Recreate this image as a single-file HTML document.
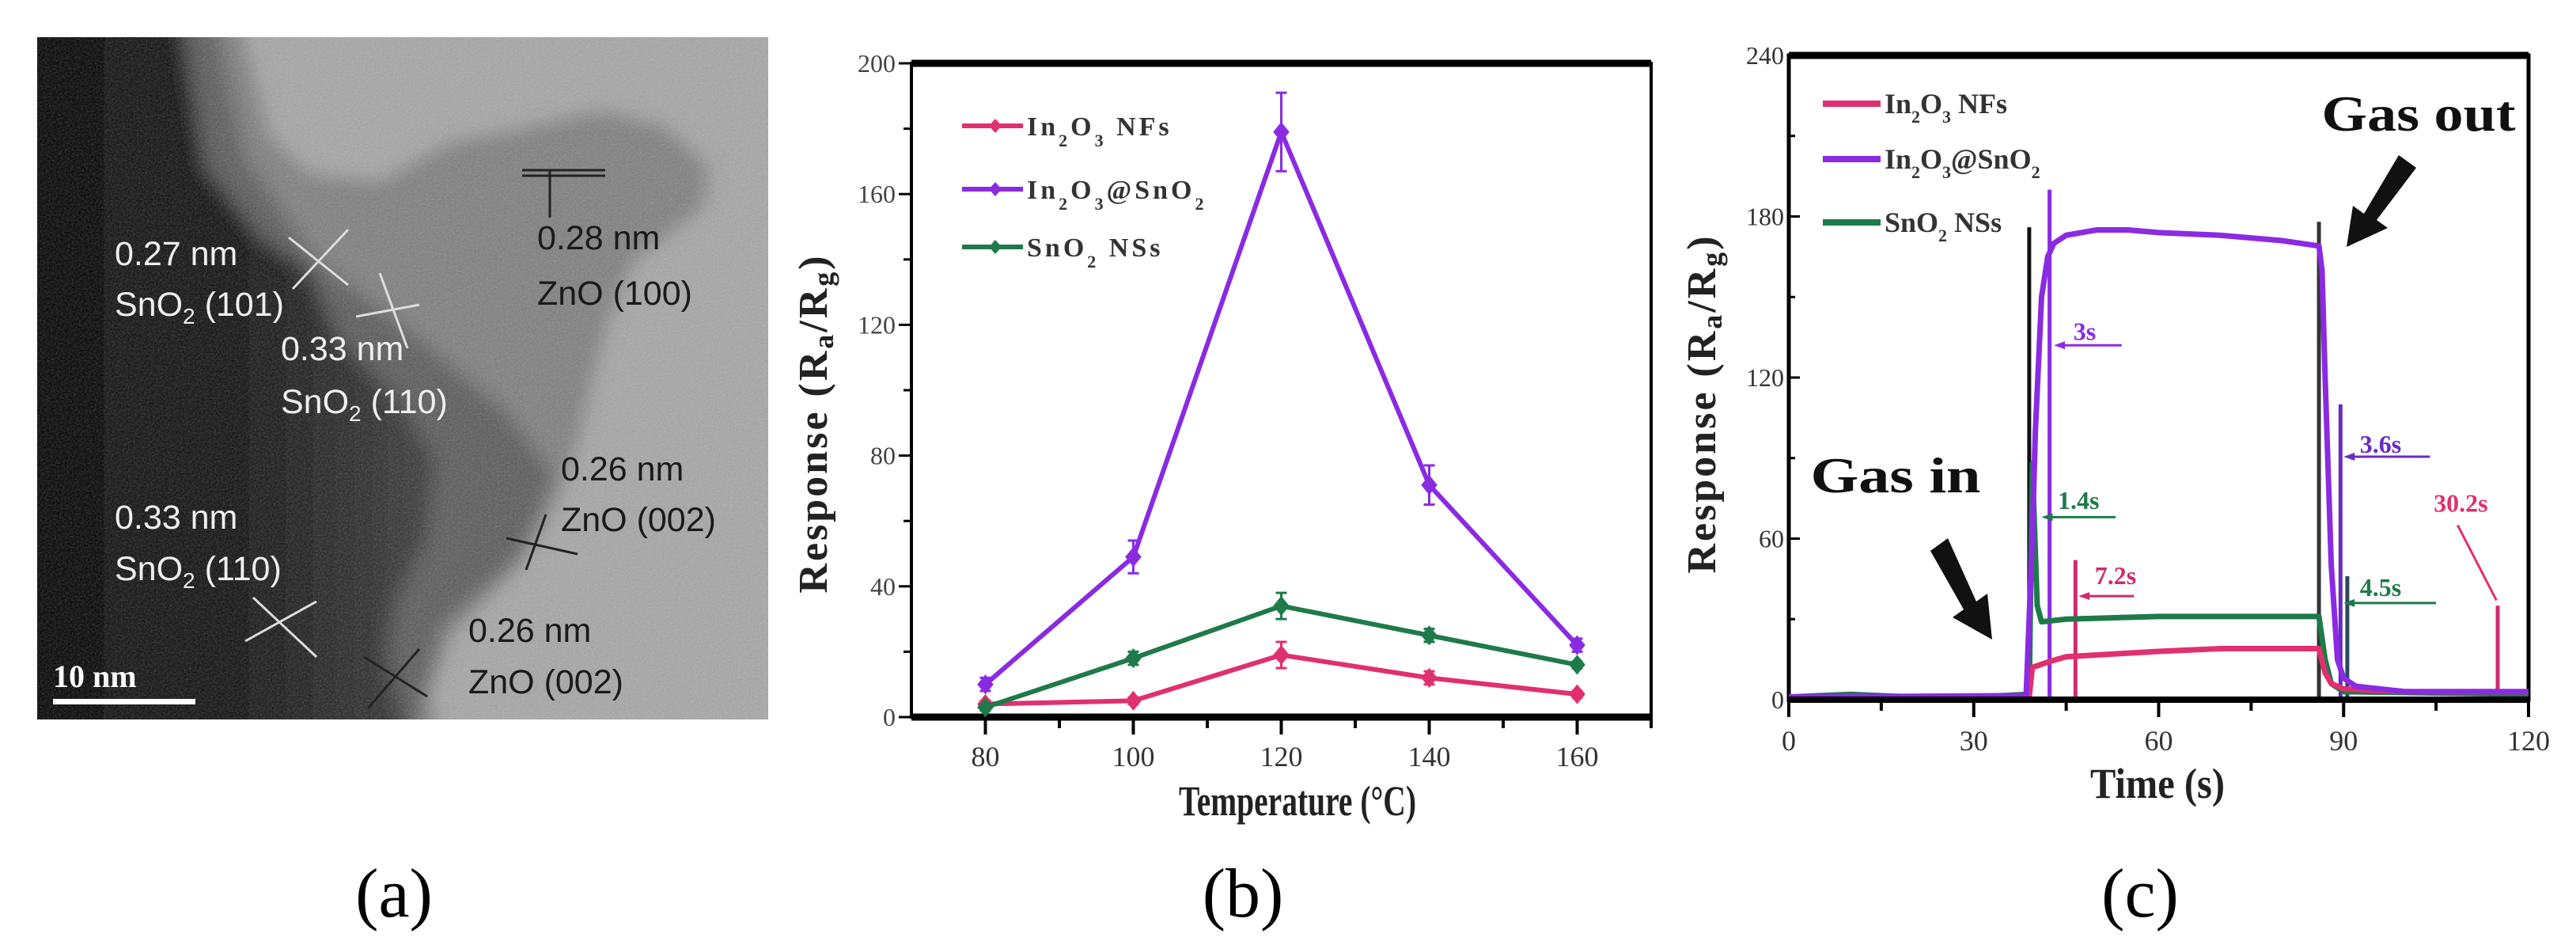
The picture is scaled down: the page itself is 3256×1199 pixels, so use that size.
<!DOCTYPE html>
<html><head><meta charset="utf-8"><style>
html,body{margin:0;padding:0;background:#fff}
svg{display:block}
text{font-family:"Liberation Serif",serif}
.s{font-family:"Liberation Sans",sans-serif;font-size:43px}
</style></head><body>
<svg id="fig" width="3256" height="1199" viewBox="0 0 3256 1199" xmlns="http://www.w3.org/2000/svg">
<defs>
<filter id="blur" x="-10%" y="-10%" width="120%" height="120%"><feGaussianBlur stdDeviation="12"/></filter>
<filter id="noise"><feTurbulence type="fractalNoise" baseFrequency="0.45" numOctaves="2" result="n"/><feColorMatrix type="saturate" values="0"/><feComponentTransfer><feFuncA type="linear" slope="0.3"/></feComponentTransfer></filter>
<clipPath id="tem"><rect x="46" y="46" width="926" height="864"/></clipPath>
<linearGradient id="dk" x1="0" x2="1" y1="0" y2="0"><stop offset="0" stop-color="#000"/><stop offset="0.55" stop-color="#111"/><stop offset="1" stop-color="#3a3a3a"/></linearGradient>
</defs>

<!-- Panel (a) TEM image -->
<g clip-path="url(#tem)">
<rect x="46" y="46" width="926" height="864" fill="#a6a6a6"/>
<g filter="url(#blur)">
<polygon fill="#7e7e7e" points="20,20 300,20 340,170 390,220 480,230 570,180 650,165 760,140 840,160 895,210 890,260 800,330 770,400 750,470 730,560 700,640 650,720 570,800 540,880 560,940 20,940"/>
<polygon fill="#5a5a5a" points="20,20 270,20 310,200 400,330 520,420 640,520 700,600 660,700 560,790 520,940 20,940"/>
<polygon fill="url(#dk)" points="20,20 230,20 260,210 330,300 390,340 430,430 500,500 550,580 540,680 500,760 490,830 520,940 20,940"/>
</g>
<rect x="46" y="46" width="926" height="864" filter="url(#noise)"/>
</g>
<rect x="46" y="46" width="926" height="864" fill="none" stroke="#fff" stroke-width="2"/>
<g stroke-width="3" clip-path="url(#tem)">
<g stroke="#ddd"><line x1="365" y1="300" x2="440" y2="360"/><line x1="440" y1="290" x2="370" y2="365"/><line x1="480" y1="345" x2="515" y2="440"/><line x1="450" y1="400" x2="530" y2="385"/><line x1="320" y1="755" x2="400" y2="830"/><line x1="310" y1="810" x2="400" y2="760"/></g>
<g stroke="#222"><line x1="695" y1="215" x2="695" y2="275"/><line x1="660" y1="215" x2="765" y2="215"/><line x1="660" y1="222" x2="765" y2="222"/><line x1="640" y1="680" x2="730" y2="700"/><line x1="665" y1="720" x2="690" y2="650"/><line x1="460" y1="830" x2="540" y2="880"/><line x1="465" y1="895" x2="530" y2="820"/></g>
</g>
<g>
<text class="s" x="145" y="335" fill="#eee">0.27 nm</text>
<text class="s" x="145" y="399" fill="#eee">SnO<tspan font-size="28" dy="10">2</tspan><tspan dy="-10"> (101)</tspan></text>
<text class="s" x="355" y="455" fill="#eee">0.33 nm</text>
<text class="s" x="355" y="522" fill="#eee">SnO<tspan font-size="28" dy="10">2</tspan><tspan dy="-10"> (110)</tspan></text>
<text class="s" x="679" y="315" fill="#1a1a1a">0.28 nm</text>
<text class="s" x="679" y="385" fill="#1a1a1a">ZnO (100)</text>
<text class="s" x="709" y="607" fill="#1a1a1a">0.26 nm</text>
<text class="s" x="709" y="671" fill="#1a1a1a">ZnO (002)</text>
<text class="s" x="145" y="668" fill="#eee">0.33 nm</text>
<text class="s" x="145" y="733" fill="#eee">SnO<tspan font-size="28" dy="10">2</tspan><tspan dy="-10"> (110)</tspan></text>
<text class="s" x="592" y="811" fill="#1a1a1a">0.26 nm</text>
<text class="s" x="592" y="876" fill="#1a1a1a">ZnO (002)</text>
<text x="67" y="868" font-size="40" font-weight="bold" fill="#fff">10 nm</text>
<rect x="67" y="883" width="180" height="7" fill="#fff"/>
</g>

<g id="chartB"></g>
<g id="chartC"></g>

<text x="498" y="1158" font-size="88" text-anchor="middle">(a)</text>
<text x="1571" y="1158" font-size="88" text-anchor="middle">(b)</text>
<text x="2705" y="1158" font-size="88" text-anchor="middle">(c)</text>
</svg>
<script>
// ---------- Chart (b) data ----------
const tempCats = [80, 100, 120, 140, 160];
const in2o3NFs = [4, 5, 19, 12, 7];
const in2o3NFsErr = [1, 1, 4, 2, 1];
const in2o3SnO2 = [10, 49, 179, 71, 22];
const in2o3SnO2Err = [2, 5, 12, 6, 2];
const sno2NSs = [3, 18, 34, 25, 16];
const sno2NSsErr = [1, 2, 4, 2, 1];
const bXTicks = [80, 100, 120, 140, 160];
const bYTicks = [0, 40, 80, 120, 160, 200];

// ---------- Chart (c) data ([time, response]) ----------
const cPurple = [[0,1],[38.5,1.5],[39.5,60],[40,100],[41,150],[42,165],[43,170],[45,173],[50,175],[55,175],[60,174],[70,173],[80,171],[86,169],[86.5,160],[87,120],[88,50],[89,15],[90,8],[92,5],[96,4],[100,3],[120,3]];
const cGreen = [[0,1],[10,2],[20,1],[30,1],[39,2],[39.5,88],[40.3,35],[41,29],[45,30],[60,31],[86,31],[87,15],[88,6],[90,3],[120,2]];
const cPink = [[0,1],[39,1],[39.5,12],[42,14],[45,16],[60,18],[70,19],[86,19],[87,10],[88,6],[90,4],[100,3],[120,3]];
const cMarkers = [[39,176,'#111'],[86,178,'#333'],[42.3,190,'#8a2be2'],[89.5,110,'#6a2bc2'],[90.6,46,'#2a4a5a'],[46.5,52,'#d02a70'],[115,35,'#d02a70']];
const cXTicks = [0, 30, 60, 90, 120];
const cYTicks = [0, 60, 120, 180, 240];
const cNotes = [['3s',48,137,'#8a2be2',43,54,132],['1.4s',47,74,'#1f7a4a',41,53,68],['7.2s',53,46,'#d02a70',47,56,38.6],['3.6s',96,95,'#6a2bc2',90,104,90.5],['4.5s',96,41.6,'#1f7a4a',90,105,36]];

const NS='http://www.w3.org/2000/svg';
function mk(parent, tag, attrs, txt){const e=document.createElementNS(NS,tag);for(const k in attrs)e.setAttribute(k,attrs[k]);if(txt!==undefined)e.textContent=txt;parent.appendChild(e);return e;}

const COL={pink:'#e0306f',purple:'#8a2be2',green:'#1f7a4a'};

// ---- Chart B ----
(function(){
  const g=document.getElementById('chartB');
  const L=1152,R=2087,T=80,B=906;
  const x=v=>L+(v-70)/(170-70)*(R-L);
  const y=v=>B-(v/200)*(B-T);
  const frame=mk(g,'rect',{x:L,y:T,width:R-L,height:B-T,fill:'none',stroke:'#000','stroke-width':4});
   
  mk(g,'line',{x1:L,y1:T,x2:R,y2:T,stroke:'#000','stroke-width':9});
  mk(g,'line',{x1:L,y1:B,x2:R,y2:B,stroke:'#000','stroke-width':9});
  for(let v=80;v<=170;v+=10){mk(g,'line',{x1:x(v),y1:B,x2:x(v),y2:B+(v%20===0?22:14),stroke:'#000','stroke-width':4});}
  for(let v=0;v<=200;v+=20){mk(g,'line',{x1:L,y1:y(v),x2:L-(v%40===0?16:10),y2:y(v),stroke:'#000','stroke-width':3});}
  bXTicks.forEach(v=>{const t=mk(g,'text',{x:x(v),y:968,'font-size':36,'text-anchor':'middle',fill:'#333'},String(v));
     });
  bYTicks.forEach(v=>{const t=mk(g,'text',{x:L-20,y:y(v)+11,'font-size':32,'text-anchor':'end',fill:'#444'},String(v));
     });
  const xt=mk(g,'text',{x:1640,y:1030,'font-size':54,'font-weight':'bold','text-anchor':'middle',fill:'#222',textLength:300,lengthAdjust:'spacingAndGlyphs'},'Temperature (°C)');
   
  const yt=mk(g,'text',{x:0,y:0,'font-size':52,'font-weight':'bold','text-anchor':'middle',fill:'#222',transform:'translate(1045,535) rotate(-90)','letter-spacing':3},'');
   
  yt.innerHTML='Response (R<tspan font-size="36" dy="8">a</tspan><tspan dy="-8">/R</tspan><tspan font-size="36" dy="8">g</tspan><tspan dy="-8">)</tspan>';
  const series=[['in2o3-nfs',in2o3NFs,in2o3NFsErr,COL.pink],['in2o3-sno2',in2o3SnO2,in2o3SnO2Err,COL.purple],['sno2-nss',sno2NSs,sno2NSsErr,COL.green]];
  series.forEach(([nm,vals,errs,c])=>{
    const sg=mk(g,'g',{});
     
    const pts=tempCats.map((t,i)=>x(t)+','+y(vals[i])).join(' ');
    mk(sg,'polyline',{points:pts,fill:'none',stroke:c,'stroke-width':6,'stroke-linejoin':'round'});
    tempCats.forEach((t,i)=>{
      const cx=x(t),cy=y(vals[i]),e=errs[i]*(B-T)/200;
      mk(sg,'line',{x1:cx,y1:cy-e,x2:cx,y2:cy+e,stroke:c,'stroke-width':3});
      mk(sg,'line',{x1:cx-7,y1:cy-e,x2:cx+7,y2:cy-e,stroke:c,'stroke-width':3});
      mk(sg,'line',{x1:cx-7,y1:cy+e,x2:cx+7,y2:cy+e,stroke:c,'stroke-width':3});
      const m=mk(sg,'polygon',{points:`${cx},${cy-11} ${cx+9},${cy} ${cx},${cy+11} ${cx-9},${cy}`,fill:c,stroke:c,'stroke-width':2});
       
    });
  });
  const legend=[[COL.pink,159],[COL.purple,239],[COL.green,312]];
  legend.forEach((l,i)=>{
    const lg=mk(g,'g',{});
     
    mk(lg,'line',{x1:1216,y1:l[1],x2:1293,y2:l[1],stroke:l[0],'stroke-width':6});
    mk(lg,'polygon',{points:`1258,${l[1]-9} 1266,${l[1]} 1258,${l[1]+9} 1250,${l[1]}`,fill:l[0]});
    const t=mk(lg,'text',{x:1298,y:l[1]+12,'font-size':34,'font-weight':'bold',fill:'#333','letter-spacing':4},'');
    if(i===0) t.innerHTML='In<tspan font-size="22" dy="14">2</tspan><tspan dy="-14">O</tspan><tspan font-size="22" dy="14">3</tspan><tspan dy="-14"> NFs</tspan>';
    if(i===1) t.innerHTML='In<tspan font-size="22" dy="14">2</tspan><tspan dy="-14">O</tspan><tspan font-size="22" dy="14">3</tspan><tspan dy="-14">@SnO</tspan><tspan font-size="22" dy="14">2</tspan>';
    if(i===2) t.innerHTML='SnO<tspan font-size="22" dy="14">2</tspan><tspan dy="-14"> NSs</tspan>';
  });
})();

// ---- Chart C ----
(function(){
  const g=document.getElementById('chartC');
  const L=2261,R=3196,T=70,B=884;
  const x=v=>L+(v/120)*(R-L);
  const y=v=>B-(v/240)*(B-T);
  const frame=mk(g,'rect',{x:L,y:T,width:R-L,height:B-T,fill:'none',stroke:'#000','stroke-width':5});
   
  mk(g,'line',{x1:L,y1:T,x2:R,y2:T,stroke:'#000','stroke-width':9});
  for(let v=0;v<=120;v+=15){mk(g,'line',{x1:x(v),y1:B,x2:x(v),y2:B+(v%30===0?22:14),stroke:'#000','stroke-width':4});}
  for(let v=0;v<=240;v+=30){mk(g,'line',{x1:L,y1:y(v),x2:L+(v%60===0?14:8),y2:y(v),stroke:'#000','stroke-width':3});}
  cXTicks.forEach(v=>{const t=mk(g,'text',{x:x(v),y:948,'font-size':36,'text-anchor':'middle',fill:'#333'},String(v));
     });
  cYTicks.forEach(v=>{const t=mk(g,'text',{x:L-6,y:y(v)+11,'font-size':32,'text-anchor':'end',fill:'#333'},String(v));
     });
  const xt=mk(g,'text',{x:2727,y:1008,'font-size':54,'font-weight':'bold','text-anchor':'middle',fill:'#222',textLength:170,lengthAdjust:'spacingAndGlyphs'},'Time (s)');
   
  const yt=mk(g,'text',{x:0,y:0,'font-size':52,'font-weight':'bold','text-anchor':'middle',fill:'#222',transform:'translate(2168,510) rotate(-90)','letter-spacing':3},'');
   
  yt.innerHTML='Response (R<tspan font-size="36" dy="8">a</tspan><tspan dy="-8">/R</tspan><tspan font-size="36" dy="8">g</tspan><tspan dy="-8">)</tspan>';
  cMarkers.forEach(m=>{const l=mk(g,'line',{x1:x(m[0]),y1:B,x2:x(m[0]),y2:y(m[1]),stroke:m[2],'stroke-width':5});
     });
  [['sno2-nss',cGreen,COL.green],['in2o3-nfs',cPink,COL.pink],['in2o3-sno2',cPurple,COL.purple]].forEach(([nm,d,c])=>{
    const p=mk(g,'polyline',{points:d.map(p=>x(p[0])+','+y(p[1])).join(' '),fill:'none',stroke:c,'stroke-width':7,'stroke-linejoin':'round'});
     
  });
  mk(g,'line',{x1:L,y1:B,x2:R,y2:B,stroke:'#000','stroke-width':8});
  cNotes.forEach(n=>{
    const ng=mk(g,'g',{});
     
    mk(ng,'text',{x:x(n[1]),y:y(n[2])+10,'font-size':32,'font-weight':'bold','text-anchor':'middle',fill:n[3]},n[0]);
    mk(ng,'line',{x1:x(n[4])+8,y1:y(n[6]),x2:x(n[5]),y2:y(n[6]),stroke:n[3],'stroke-width':3});
    mk(ng,'polygon',{points:`${x(n[4])},${y(n[6])} ${x(n[4])+14},${y(n[6])-5} ${x(n[4])+14},${y(n[6])+5}`,fill:n[3]});
  });
  const an=mk(g,'g',{});
   
  mk(an,'text',{x:x(109),y:y(73)+10,'font-size':32,'font-weight':'bold','text-anchor':'middle',fill:COL.pink},'30.2s');
  mk(an,'line',{x1:x(108.5),y1:y(65),x2:x(114.8),y2:y(37),stroke:COL.pink,'stroke-width':3});
  const gi=mk(g,'text',{x:2396,y:622,'font-size':64,'font-weight':'bold','text-anchor':'middle',fill:'#111',textLength:215,lengthAdjust:'spacingAndGlyphs'},'Gas in');
   
  const go=mk(g,'text',{x:3057,y:165,'font-size':64,'font-weight':'bold','text-anchor':'middle',fill:'#111',textLength:245,lengthAdjust:'spacingAndGlyphs'},'Gas out');
   
  const a1=mk(g,'polygon',{points:'2440,696 2462,680 2498,760 2512,750 2518,808 2468,780 2482,770',fill:'#111'});
   
  const a2=mk(g,'polygon',{points:'3032,196 3054,212 3004,278 3018,288 2966,312 2974,260 2988,270',fill:'#111'});
   
  const leg=[[COL.pink,131,'In<tspan font-size="22" dy="12">2</tspan><tspan dy="-12">O</tspan><tspan font-size="22" dy="12">3</tspan><tspan dy="-12"> NFs</tspan>'],
             [COL.purple,201,'In<tspan font-size="22" dy="12">2</tspan><tspan dy="-12">O</tspan><tspan font-size="22" dy="12">3</tspan><tspan dy="-12">@SnO</tspan><tspan font-size="22" dy="12">2</tspan>'],
             [COL.green,281,'SnO<tspan font-size="22" dy="12">2</tspan><tspan dy="-12"> NSs</tspan>']];
  leg.forEach(l=>{
    const lg=mk(g,'g',{});
     
    mk(lg,'line',{x1:2304,y1:l[1],x2:2377,y2:l[1],stroke:l[0],'stroke-width':8});
    const t=mk(lg,'text',{x:2382,y:l[1]+12,'font-size':36,'font-weight':'bold',fill:'#333'},'');
    t.innerHTML=l[2];
  });
})();
</script>
</body></html>
